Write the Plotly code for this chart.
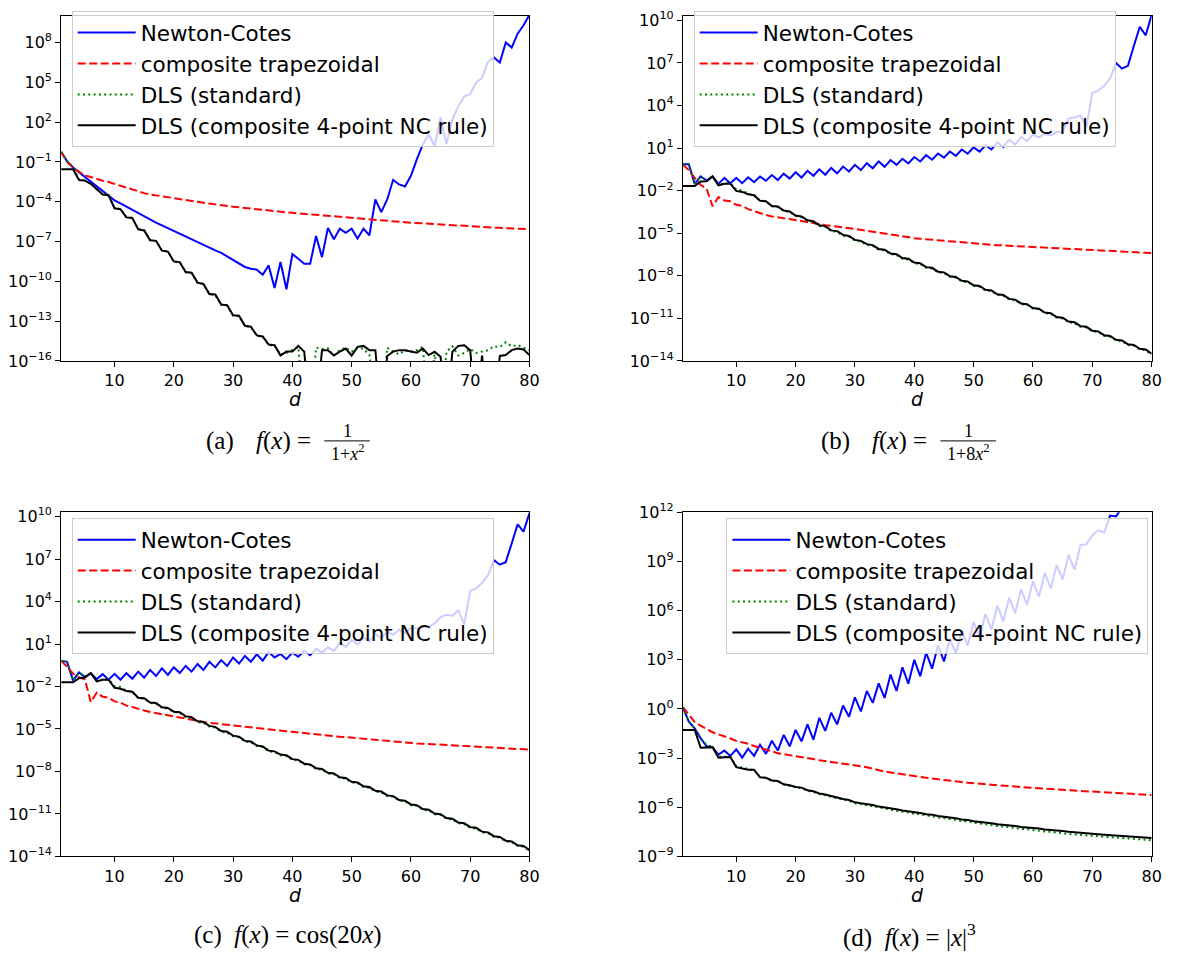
import plotly.graph_objects as go

W, H = 1179, 962

# ---------------- data (log10 of the error) ----------------
d = list(range(1, 81))
series_names = ["Newton-Cotes", "composite trapezoidal", "DLS (standard)",
                "DLS (composite 4-point NC rule)"]
# values below the plotted floor (exact zeros in the original) are stored as -20

# (a) f(x) = 1/(1+x^2)
nc_a = [-0.24, -0.95, -1.42, -1.78, -2.12, -2.45, -2.8, -3.15, -3.55, -3.9,
        -4.13, -4.38, -4.62, -4.86, -5.1, -5.34, -5.57, -5.79, -6.0, -6.22,
        -6.44, -6.66, -6.88, -7.08, -7.28, -7.48, -7.67, -7.86, -8.12, -8.38,
        -8.65, -8.92, -9.05, -9.12, -9.5, -8.8, -10.5, -8.55, -10.6, -7.95,
        -8.3, -8.67, -8.67, -6.58, -8.18, -5.97, -6.83, -6.04, -6.34, -6.04,
        -6.78, -6.04, -6.53, -3.83, -4.79, -3.83, -2.35, -2.7, -2.85, -2.04,
        -0.81, 0.3, 1.09, 0.18, 2.39, 0.35, 2.2, 3.21, 3.94, 4.1,
        5.0, 5.33, 6.56, 6.88, 6.49, 8.01, 7.62, 8.67, 9.3, 10.1]
trap_a = [-0.24, -1.0, -1.42, -1.75, -2.0, -2.15, -2.28, -2.42, -2.52, -2.66,
          -2.78, -2.95, -3.1, -3.25, -3.35, -3.45, -3.52, -3.6, -3.68, -3.74,
          -3.82, -3.9, -3.98, -4.04, -4.1, -4.14, -4.2, -4.27, -4.33, -4.38,
          -4.42, -4.47, -4.53, -4.6, -4.65, -4.69, -4.73, -4.77, -4.8, -4.84,
          -4.88, -4.92, -4.96, -5.0, -5.04, -5.08, -5.12, -5.16, -5.2, -5.23,
          -5.27, -5.3, -5.34, -5.37, -5.41, -5.44, -5.48, -5.52, -5.55, -5.58,
          -5.61, -5.64, -5.67, -5.7, -5.73, -5.76, -5.79, -5.82, -5.85, -5.87,
          -5.89, -5.91, -5.93, -5.95, -5.97, -5.99, -6.01, -6.03, -6.05, -6.07]
dls_a = [-0.24, -0.95, -1.42, -2.3, -2.4, -2.62, -3.05, -3.42, -3.5, -4.45,
         -4.55, -5.15, -5.22, -6.05, -6.15, -6.88, -6.95, -7.68, -7.76, -8.52,
         -8.57, -9.32, -9.38, -10.12, -10.22, -10.98, -11.03, -11.78, -11.83, -12.58,
         -12.63, -13.38, -13.45, -14.1, -14.18, -14.8, -14.87, -15.5, -15.4, -15.2,
         -14.95, -20, -20, -15.0, -15.1, -15.05, -15.6, -15.2, -15.0, -15.3,
         -15.0, -15.1, -15.55, -20, -20, -15.0, -15.3, -15.5, -15.2, -15.3,
         -15.2, -14.95, -20, -15.3, -20, -15.3, -14.9, -15.6, -15.4, -15.1,
         -15.4, -15.3, -15.2, -14.9, -14.95, -14.6, -14.9, -14.8, -15.0, -15.2]
dlsc_a = [-1.55, -1.55, -1.55, -2.36, -2.41, -2.65, -3.09, -3.46, -3.51, -4.5,
          -4.57, -5.18, -5.23, -6.09, -6.17, -6.9, -6.95, -7.69, -7.76, -8.5,
          -8.55, -9.3, -9.35, -10.1, -10.2, -10.96, -11.0, -11.75, -11.8, -12.56,
          -12.6, -13.35, -13.42, -14.08, -14.16, -14.77, -14.82, -15.6, -15.3, -15.3,
          -14.87, -15.3, -20, -20, -15.2, -15.2, -15.6, -15.3, -15.07, -15.6,
          -14.94, -14.87, -15.19, -15.19, -20, -15.63, -15.3, -15.19, -15.19, -15.31,
          -15.39, -15.07, -15.56, -15.31, -15.68, -20, -15.3, -14.87, -14.82, -15.19,
          -20, -15.6, -20, -20, -15.63, -15.56, -15.19, -15.07, -15.14, -15.56]

# (b) f(x) = 1/(1+8x^2)
nc_b = [-0.14, -0.14, -1.52, -1.0, -1.29, -1.0, -1.52, -1.1, -1.47, -1.1,
        -1.47, -1.06, -1.4, -1.0, -1.3, -0.9, -1.25, -0.8, -1.15, -0.7,
        -1.07, -0.6, -0.95, -0.5, -0.88, -0.4, -0.78, -0.3, -0.65, -0.18,
        -0.55, -0.06, -0.42, 0.06, -0.32, 0.16, -0.18, 0.25, -0.08, 0.37,
        0.06, 0.5, 0.18, 0.62, 0.33, 0.76, 0.45, 0.9, 0.6, 1.05,
        0.75, 1.2, 0.9, 1.4, 1.08, 1.6, 1.25, 1.78, 1.5, 1.95,
        1.75, 2.0, 1.9, 2.15, 2.1, 3.1, 3.15, 3.3, 2.5, 4.9,
        5.05, 5.4, 5.9, 7.0, 6.6, 6.8, 8.2, 9.55, 8.95, 10.4]
trap_b = [-0.18, -0.55, -1.1, -1.6, -1.85, -3.1, -2.45, -2.7, -2.75, -3.0,
          -3.08, -3.3, -3.45, -3.6, -3.72, -3.82, -3.9, -3.95, -4.0, -4.08,
          -4.15, -4.22, -4.3, -4.37, -4.43, -4.48, -4.53, -4.58, -4.63, -4.7,
          -4.75, -4.82, -4.9, -4.97, -5.03, -5.1, -5.17, -5.24, -5.3, -5.35,
          -5.39, -5.43, -5.47, -5.51, -5.54, -5.58, -5.62, -5.66, -5.7, -5.75,
          -5.78, -5.8, -5.82, -5.84, -5.86, -5.88, -5.9, -5.93, -5.95, -5.97,
          -6.0, -6.02, -6.04, -6.06, -6.08, -6.1, -6.12, -6.14, -6.16, -6.18,
          -6.2, -6.23, -6.25, -6.28, -6.3, -6.32, -6.34, -6.36, -6.38, -6.4]
dls_b = [-0.14, -0.14, -1.52, -1.0, -1.3, -1.0, -1.6, -1.48, -1.48, -1.92,
         -1.98, -2.22, -2.32, -2.72, -2.76, -3.1, -3.15, -3.43, -3.5, -3.79,
         -3.86, -4.13, -4.2, -4.49, -4.55, -4.85, -4.9, -5.17, -5.24, -5.52,
         -5.59, -5.82, -5.89, -6.16, -6.21, -6.48, -6.53, -6.8, -6.85, -7.12,
         -7.17, -7.44, -7.49, -7.76, -7.81, -8.08, -8.13, -8.4, -8.45, -8.72,
         -8.77, -9.04, -9.09, -9.36, -9.41, -9.68, -9.73, -10.0, -10.05, -10.32,
         -10.37, -10.64, -10.69, -10.96, -11.01, -11.28, -11.33, -11.6, -11.65, -11.92,
         -11.97, -12.24, -12.29, -12.56, -12.61, -12.88, -12.93, -13.2, -13.25, -13.55]
dlsc_b = [-1.68, -1.68, -1.68, -1.36, -1.33, -1.0, -1.63, -1.51, -1.51, -2.02,
          -2.09, -2.25, -2.32, -2.71, -2.74, -3.08, -3.12, -3.4, -3.47, -3.75,
          -3.82, -4.09, -4.16, -4.44, -4.5, -4.8, -4.85, -5.12, -5.19, -5.47,
          -5.54, -5.77, -5.84, -6.11, -6.16, -6.43, -6.48, -6.75, -6.8, -7.07,
          -7.12, -7.39, -7.44, -7.71, -7.76, -8.03, -8.08, -8.35, -8.4, -8.67,
          -8.72, -8.99, -9.04, -9.31, -9.36, -9.63, -9.68, -9.95, -10.0, -10.27,
          -10.32, -10.59, -10.64, -10.91, -10.96, -11.23, -11.28, -11.55, -11.6, -11.87,
          -11.92, -12.19, -12.24, -12.51, -12.56, -12.83, -12.88, -13.15, -13.2, -13.5]

# (c) f(x) = cos(20x)
nc_c = [-0.19, -0.26, -1.57, -1.01, -1.33, -1.06, -1.48, -1.13, -1.52, -1.11,
        -1.52, -1.06, -1.45, -0.95, -1.38, -0.83, -1.26, -0.72, -1.18, -0.64,
        -1.05, -0.55, -0.95, -0.41, -0.84, -0.26, -0.65, -0.14, -0.55, 0.05,
        -0.38, 0.16, -0.25, 0.27, -0.17, 0.43, 0.05, 0.3, -0.07, 0.39,
        0.1, 0.52, 0.21, 0.66, 0.39, 0.78, 0.5, 1.06, 0.8, 1.28,
        0.98, 1.46, 1.2, 1.7, 1.42, 1.89, 1.65, 2.0, 1.78, 2.14,
        2.1, 2.18, 2.2, 2.45, 2.9, 3.07, 3.0, 3.37, 2.39, 4.76,
        4.92, 5.31, 5.84, 6.92, 6.6, 6.78, 8.1, 9.45, 8.94, 10.25]
trap_c = [-0.19, -0.6, -1.1, -1.35, -1.5, -3.1, -2.44, -2.72, -2.79, -3.05,
          -3.13, -3.35, -3.45, -3.6, -3.7, -3.8, -3.88, -3.97, -4.05, -4.12,
          -4.19, -4.26, -4.33, -4.42, -4.5, -4.56, -4.61, -4.66, -4.7, -4.74,
          -4.8, -4.86, -4.91, -4.96, -5.01, -5.05, -5.09, -5.12, -5.16, -5.2,
          -5.25, -5.3, -5.35, -5.4, -5.44, -5.48, -5.52, -5.55, -5.58, -5.62,
          -5.66, -5.7, -5.74, -5.78, -5.82, -5.86, -5.9, -5.94, -5.97, -6.0,
          -6.02, -6.04, -6.06, -6.08, -6.1, -6.12, -6.15, -6.18, -6.2, -6.22,
          -6.24, -6.26, -6.28, -6.3, -6.33, -6.36, -6.39, -6.42, -6.44, -6.46]
dls_c = [-0.19, -0.26, -1.57, -1.01, -1.3, -1.06, -1.62, -1.5, -1.5, -1.98,
         -2.03, -2.3, -2.38, -2.82, -2.86, -3.16, -3.21, -3.5, -3.56, -3.82,
         -3.87, -4.15, -4.21, -4.51, -4.56, -4.83, -4.9, -5.2, -5.25, -5.52,
         -5.59, -5.89, -5.94, -6.21, -6.28, -6.58, -6.63, -6.86, -6.91, -7.18,
         -7.23, -7.5, -7.55, -7.82, -7.87, -8.14, -8.19, -8.46, -8.51, -8.78,
         -8.83, -9.1, -9.15, -9.42, -9.47, -9.74, -9.79, -10.06, -10.11, -10.38,
         -10.43, -10.7, -10.75, -11.02, -11.07, -11.34, -11.39, -11.66, -11.71, -11.98,
         -12.03, -12.3, -12.35, -12.62, -12.67, -12.94, -12.99, -13.26, -13.31, -13.6]
dlsc_c = [-1.7, -1.7, -1.7, -1.41, -1.36, -1.06, -1.64, -1.52, -1.52, -2.09,
          -2.16, -2.32, -2.37, -2.79, -2.83, -3.13, -3.17, -3.47, -3.52, -3.78,
          -3.82, -4.1, -4.16, -4.46, -4.51, -4.78, -4.85, -5.15, -5.2, -5.47,
          -5.54, -5.84, -5.89, -6.16, -6.23, -6.53, -6.58, -6.81, -6.86, -7.13,
          -7.18, -7.45, -7.5, -7.77, -7.82, -8.09, -8.14, -8.41, -8.46, -8.73,
          -8.78, -9.05, -9.1, -9.37, -9.42, -9.69, -9.74, -10.01, -10.06, -10.33,
          -10.38, -10.65, -10.7, -10.97, -11.02, -11.29, -11.34, -11.61, -11.66, -11.93,
          -11.98, -12.25, -12.3, -12.57, -12.62, -12.89, -12.94, -13.21, -13.26, -13.55]

# (d) f(x) = |x|^3
nc_d = [0.11, -0.78, -1.18, -1.78, -2.28, -2.34, -2.78, -2.54, -2.87, -2.47,
        -2.97, -2.42, -2.87, -2.18, -2.74, -1.94, -2.54, -1.58, -2.28, -1.28,
        -1.98, -0.94, -1.88, -0.54, -1.34, -0.23, -0.94, 0.21, -0.48, 0.71,
        -0.15, 1.1, 0.37, 1.56, 0.67, 2.1, 1.1, 2.54, 1.54, 3.0,
        2.0, 3.43, 2.46, 3.89, 2.9, 4.29, 3.39, 4.8, 3.85, 5.3,
        4.35, 5.8, 4.85, 6.3, 5.35, 6.8, 5.85, 7.3, 6.35, 7.8,
        6.85, 8.3, 7.35, 8.8, 7.9, 9.4, 8.5, 10.0, 10.05, 10.6,
        10.9, 10.75, 11.8, 11.75, 12.3, 12.8, 13.0, 13.4, 13.6, 14.0]
trap_d = [0.11, -0.35, -0.8, -1.02, -1.22, -1.42, -1.55, -1.66, -1.8, -1.95,
          -2.02, -2.12, -2.26, -2.38, -2.5, -2.62, -2.7, -2.76, -2.82, -2.86,
          -2.9, -2.98, -3.06, -3.13, -3.18, -3.22, -3.27, -3.31, -3.36, -3.42,
          -3.5, -3.56, -3.66, -3.76, -3.82, -3.88, -3.94, -4.0, -4.06, -4.1,
          -4.15, -4.2, -4.25, -4.3, -4.35, -4.39, -4.42, -4.46, -4.5, -4.54,
          -4.57, -4.6, -4.62, -4.65, -4.67, -4.7, -4.73, -4.76, -4.79, -4.82,
          -4.85, -4.88, -4.9, -4.92, -4.94, -4.96, -4.98, -5.0, -5.01, -5.03,
          -5.06, -5.08, -5.1, -5.13, -5.15, -5.17, -5.19, -5.21, -5.23, -5.25]
dls_d = [0.11, -0.75, -1.2, -1.85, -2.2, -2.3, -2.92, -2.9, -2.92, -3.5,
         -3.58, -3.7, -3.74, -4.15, -4.22, -4.36, -4.42, -4.62, -4.69, -4.79,
         -4.84, -4.99, -5.06, -5.2, -5.26, -5.37, -5.45, -5.55, -5.61, -5.75,
         -5.81, -5.86, -5.92, -6.02, -6.07, -6.15, -6.19, -6.27, -6.32, -6.4,
         -6.43, -6.5, -6.54, -6.62, -6.66, -6.73, -6.77, -6.84, -6.87, -6.95,
         -6.98, -7.04, -7.08, -7.14, -7.17, -7.23, -7.26, -7.32, -7.34, -7.4,
         -7.42, -7.48, -7.5, -7.56, -7.58, -7.63, -7.65, -7.69, -7.71, -7.75,
         -7.77, -7.8, -7.82, -7.86, -7.88, -7.91, -7.93, -7.96, -7.98, -8.01]
dlsc_d = [-1.28, -1.28, -1.28, -2.37, -2.37, -2.33, -2.97, -2.93, -2.93, -3.55,
          -3.61, -3.71, -3.71, -4.17, -4.2, -4.36, -4.4, -4.6, -4.66, -4.76,
          -4.8, -4.96, -5.02, -5.16, -5.22, -5.32, -5.4, -5.5, -5.56, -5.7,
          -5.76, -5.8, -5.86, -5.96, -6.0, -6.08, -6.12, -6.2, -6.24, -6.32,
          -6.35, -6.42, -6.45, -6.53, -6.57, -6.64, -6.67, -6.74, -6.77, -6.85,
          -6.88, -6.94, -6.97, -7.03, -7.06, -7.12, -7.14, -7.2, -7.22, -7.28,
          -7.3, -7.36, -7.38, -7.43, -7.45, -7.5, -7.52, -7.56, -7.58, -7.62,
          -7.64, -7.67, -7.69, -7.72, -7.74, -7.77, -7.79, -7.82, -7.84, -7.87]

xtick_vals = [10, 20, 30, 40, 50, 60, 70, 80]
ytick_exp_a = [8, 5, 2, -1, -4, -7, -10, -13, -16]
ytick_exp_bc = [10, 7, 4, 1, -2, -5, -8, -11, -14]
ytick_exp_d = [12, 9, 6, 3, 0, -3, -6, -9]

# ---------------- layout geometry (pixels) ----------------
def fx(px):
    return px / W

def fy(py):
    return 1 - py / H

panels = [
    dict(series=[nc_a, trap_a, dls_a, dlsc_a], xpx=(61.7, 534.0), ypx=(5.0, 357.7),
         yrange=(-16, 10.01), yt=ytick_exp_a, leg=(72.3, 0.0)),
    dict(series=[nc_b, trap_b, dls_b, dlsc_b], xpx=(688.7, 1161.5), ypx=(5.0, 357.7),
         yrange=(-14, 10.32), yt=ytick_exp_bc, leg=(699.6, 0.0)),
    dict(series=[nc_c, trap_c, dls_c, dlsc_c], xpx=(61.7, 534.0), ypx=(512.5, 864.3),
         yrange=(-14, 10.3), yt=ytick_exp_bc, leg=(72.3, 518.5)),
    dict(series=[nc_d, trap_d, dls_d, dlsc_d], xpx=(688.7, 1161.5), ypx=(512.5, 864.3),
         yrange=(-9, 12), yt=ytick_exp_d, leg=(732.6, 518.5)),
]

line_styles = [
    dict(color="#0000ff", width=2, dash="solid"),
    dict(color="#ff0000", width=2, dash="8px,3.5px"),
    dict(color="#008000", width=2, dash="2px,3.3px"),
    dict(color="#000000", width=2, dash="solid"),
]

def sup_label(e):
    s = str(e).replace("-", "\u2212")
    return "10<sup>" + s + "</sup>"

fig = go.Figure()
layout = dict(
    width=W, height=H,
    margin=dict(l=0, r=0, t=0, b=0),
    paper_bgcolor="white", plot_bgcolor="white",
    showlegend=True,
)
TICKFONT = dict(family="DejaVu Sans", size=16, color="black")

for i, p in enumerate(panels):
    k = "" if i == 0 else str(i + 1)
    legname = "legend" if i == 0 else "legend" + str(i + 1)
    for name, arr, st in zip(series_names, p["series"], line_styles):
        fig.add_trace(go.Scatter(
            x=d, y=[10 ** v for v in arr], mode="lines", name=name,
            line=st, xaxis="x" + k, yaxis="y" + k, legend=legname,
            hoverinfo="skip", cliponaxis=True,
        ))
    layout["xaxis" + k] = dict(
        domain=[fx(p["xpx"][0]), fx(p["xpx"][1])], anchor="y" + k,
        range=[1, 80], tickmode="array", tickvals=xtick_vals,
        ticks="outside", ticklen=5, tickwidth=1, tickcolor="black",
        showline=True, linecolor="black", linewidth=1, mirror=True,
        showgrid=False, zeroline=False, tickfont=TICKFONT,
    )
    layout["yaxis" + k] = dict(
        domain=[fy(p["ypx"][1]), fy(p["ypx"][0])], anchor="x" + k,
        type="log", range=list(p["yrange"]), tickmode="array",
        tickvals=[10 ** e for e in p["yt"]], ticktext=[sup_label(e) for e in p["yt"]],
        ticks="outside", ticklen=5, tickwidth=1, tickcolor="black",
        showline=True, linecolor="black", linewidth=1, mirror=True,
        showgrid=False, zeroline=False, tickfont=TICKFONT,
    )
    layout[legname] = dict(
        x=fx(p["leg"][0]), y=fy(p["leg"][1]), xanchor="left", yanchor="top",
        bgcolor="rgba(255,255,255,0.8)", bordercolor="#cccccc", borderwidth=1,
        font=dict(family="DejaVu Sans", size=21.5, color="black"),
        itemwidth=58, tracegroupgap=0,
    )

annotations = []
shapes = []
# axis labels "d"
for (xc, yc) in [(297.9, 397), (925.1, 397), (297.9, 903.5), (925.1, 903.5)]:
    annotations.append(dict(x=fx(xc), y=fy(yc), xref="paper", yref="paper",
                            text="<i>d</i>", showarrow=False, xanchor="center", yanchor="middle",
                            height=14, valign="middle",
                            font=dict(family="DejaVu Sans", size=19, color="black")))

CAP = dict(family="Liberation Serif", size=25, color="black")
FRAC = dict(family="Liberation Serif", size=18, color="black")

def caption_frac(label_left, label, eq_right, frac_c, frac_w, den_text, yc):
    annotations.append(dict(x=fx(label_left), y=fy(yc), xref="paper", yref="paper",
                            text=label, showarrow=False, xanchor="left", yanchor="middle", font=CAP))
    annotations.append(dict(x=fx(eq_right), y=fy(yc), xref="paper", yref="paper",
                            text="<i>f</i>(<i>x</i>)&nbsp;=", showarrow=False, xanchor="right",
                            yanchor="middle", font=CAP))
    annotations.append(dict(x=fx(frac_c), y=fy(yc - 11), xref="paper", yref="paper",
                            text="1", showarrow=False, xanchor="center", yanchor="middle", font=FRAC))
    annotations.append(dict(x=fx(frac_c), y=fy(yc + 11), xref="paper", yref="paper",
                            text=den_text, showarrow=False, xanchor="center", yanchor="middle", font=FRAC))
    shapes.append(dict(type="line", xref="paper", yref="paper",
                       x0=fx(frac_c - frac_w / 2), x1=fx(frac_c + frac_w / 2),
                       y0=fy(yc - 0.5), y1=fy(yc - 0.5), line=dict(color="black", width=1)))

caption_frac(205.6, "(a)", 316, 350, 46, "1+<i>x</i><sup>2</sup>", 440)
caption_frac(826.4, "(b)", 937, 976.5, 56, "1+8<i>x</i><sup>2</sup>", 440)
annotations.append(dict(x=fx(290), y=fy(945), xref="paper", yref="paper",
                        text="(c)&nbsp;&nbsp;<i>f</i>(<i>x</i>)&nbsp;=&nbsp;cos(20<i>x</i>)", showarrow=False,
                        xanchor="center", yanchor="middle", font=CAP))
annotations.append(dict(x=fx(917), y=fy(945), xref="paper", yref="paper",
                        text="(d)&nbsp;&nbsp;<i>f</i>(<i>x</i>)&nbsp;=&nbsp;|<i>x</i>|<sup>3</sup>", showarrow=False,
                        xanchor="center", yanchor="middle", font=CAP))

layout["annotations"] = annotations
layout["shapes"] = shapes
fig.update_layout(**layout)
fig.write_html("out.html",
               config={"displayModeBar": False},
               post_script="document.body.style.margin='0px';document.body.style.overflow='hidden';")
